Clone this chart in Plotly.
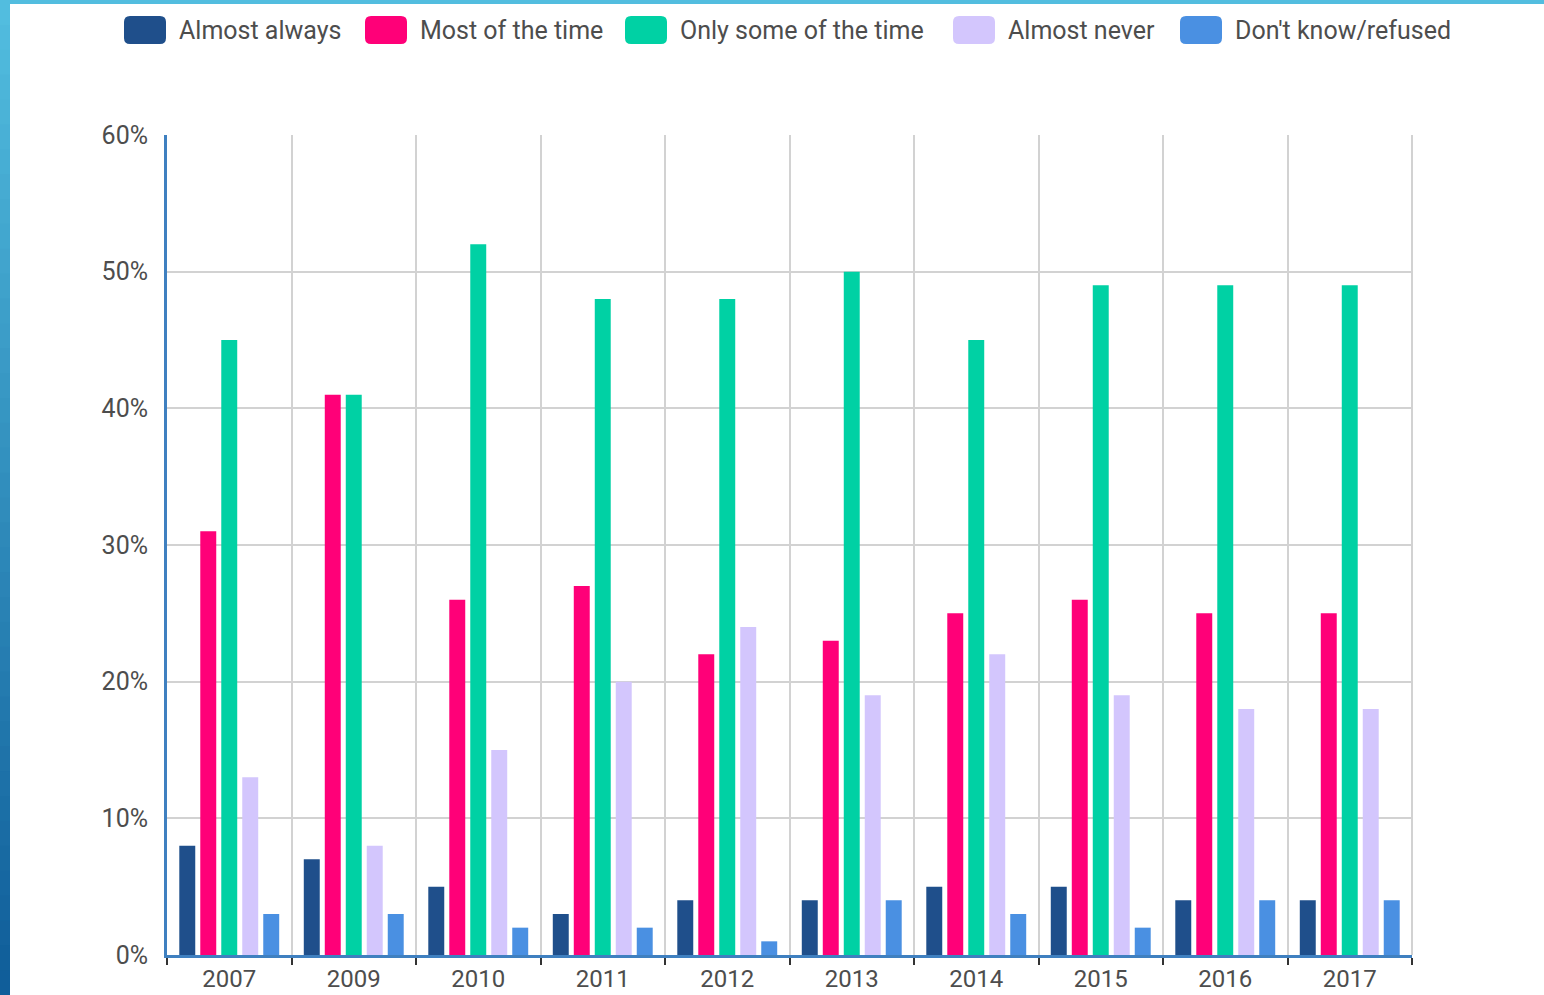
import plotly.graph_objects as go

years = ["2007", "2009", "2010", "2011", "2012", "2013", "2014", "2015", "2016", "2017"]
almost_always = [8, 7, 5, 3, 4, 4, 5, 5, 4, 4]
most_of_time = [31, 41, 26, 27, 22, 23, 25, 26, 25, 25]
only_some = [45, 41, 52, 48, 48, 50, 45, 49, 49, 49]
almost_never = [13, 8, 15, 20, 24, 19, 22, 19, 18, 18]
dont_know = [3, 3, 2, 2, 1, 4, 3, 2, 4, 4]

series_names = ["Almost always", "Most of the time", "Only some of the time", "Almost never", "Don't know/refused"]
series_values = [almost_always, most_of_time, only_some, almost_never, dont_know]
colors = ["#1F4F8B", "#FF0078", "#00D1A4", "#D3C6FD", "#4A90E2"]

# layout constants (pixels)
W, H = 1544, 995
ML, MR, MT, MB = 167, 132, 135, 40
legend_swatch_left = [124, 365, 625, 953, 1180]
FONT = "Roboto, Arial, sans-serif"
TEXT_COLOR = "#4D4D4D"

pw, ph = W - ML - MR, H - MT - MB
def px_x(p):
    return (p - ML) / pw
def px_y(p):
    return 1 - (p - MT) / ph

fig = go.Figure()
for name, vals, c in zip(series_names, series_values, colors):
    fig.add_trace(go.Bar(x=years, y=vals, name=name, showlegend=False,
                         marker=dict(color=c, line=dict(width=0))))

shapes = []
# decorative gradient frame (left and top)
n = 40
top_rgb = (0x52, 0xBD, 0xDF)
bot_rgb = (0x10, 0x5E, 0x9A)
for i in range(n):
    t = i / (n - 1)
    r = int(top_rgb[0] + (bot_rgb[0] - top_rgb[0]) * t)
    g = int(top_rgb[1] + (bot_rgb[1] - top_rgb[1]) * t)
    b = int(top_rgb[2] + (bot_rgb[2] - top_rgb[2]) * t)
    y0 = H * i / n
    y1 = H * (i + 1) / n + 1
    shapes.append(dict(type="rect", xref="paper", yref="paper",
                       x0=px_x(0), x1=px_x(10), y0=px_y(y1), y1=px_y(y0),
                       fillcolor=f"rgb({r},{g},{b})", line=dict(width=0), layer="below"))
shapes.append(dict(type="rect", xref="paper", yref="paper",
                   x0=px_x(0), x1=px_x(W), y0=px_y(4), y1=px_y(0),
                   fillcolor="rgb(82,189,223)", line=dict(width=0), layer="below"))

# custom legend (rounded swatches + text)
annotations = []
sw_w, sw_h, rad, cy = 42, 28, 6, 30
for name, c, left in zip(series_names, colors, legend_swatch_left):
    x0, x1 = left, left + sw_w
    y0, y1 = cy - sw_h / 2, cy + sw_h / 2
    def P(x, y):
        return f"{px_x(x)},{px_y(y)}"
    path = (f"M {P(x0 + rad, y0)} L {P(x1 - rad, y0)} Q {P(x1, y0)} {P(x1, y0 + rad)} "
            f"L {P(x1, y1 - rad)} Q {P(x1, y1)} {P(x1 - rad, y1)} "
            f"L {P(x0 + rad, y1)} Q {P(x0, y1)} {P(x0, y1 - rad)} "
            f"L {P(x0, y0 + rad)} Q {P(x0, y0)} {P(x0 + rad, y0)} Z")
    shapes.append(dict(type="path", xref="paper", yref="paper", path=path,
                       fillcolor=c, line=dict(width=0)))
    annotations.append(dict(text=name, xref="paper", yref="paper",
                            x=px_x(x1 + 11), y=px_y(cy), xanchor="left", yanchor="middle",
                            showarrow=False, font=dict(family=FONT, size=25, color=TEXT_COLOR)))

fig.update_layout(
    width=W, height=H, autosize=False,
    margin=dict(l=ML, r=MR, t=MT, b=MB, autoexpand=False),
    paper_bgcolor="white", plot_bgcolor="white",
    barmode="group", bargap=0.157, bargroupgap=0.24,
    font=dict(family=FONT, color=TEXT_COLOR, size=25),
    showlegend=False,
    shapes=shapes,
    annotations=annotations,
    xaxis=dict(type="category", tickson="boundaries", showgrid=True, automargin=False,
               gridcolor="#D2D2D2", gridwidth=2,
               showline=True, linecolor="#3F80C0", linewidth=2.5,
               ticks="outside", ticklen=7, tickcolor="#333333", tickwidth=2,
               ticklabelstandoff=0,
               tickfont=dict(family=FONT, size=24, color=TEXT_COLOR)),
    yaxis=dict(range=[0, 60], dtick=10, ticksuffix="%", showgrid=True, automargin=False,
               gridcolor="#D2D2D2", gridwidth=2, zeroline=False,
               showline=True, linecolor="#3F80C0", linewidth=3,
               ticks="", ticklabelstandoff=11,
               tickfont=dict(family=FONT, size=25, color=TEXT_COLOR)),
)
fig.add_shape(type="line", xref="paper", yref="paper", x0=1, x1=1, y0=0, y1=1,
              line=dict(color="#D2D2D2", width=2), layer="below")

fig.write_html("out.html",
               config={"responsive": False, "displayModeBar": False},
               post_script="document.body.style.margin='0';document.body.style.overflow='hidden';")
